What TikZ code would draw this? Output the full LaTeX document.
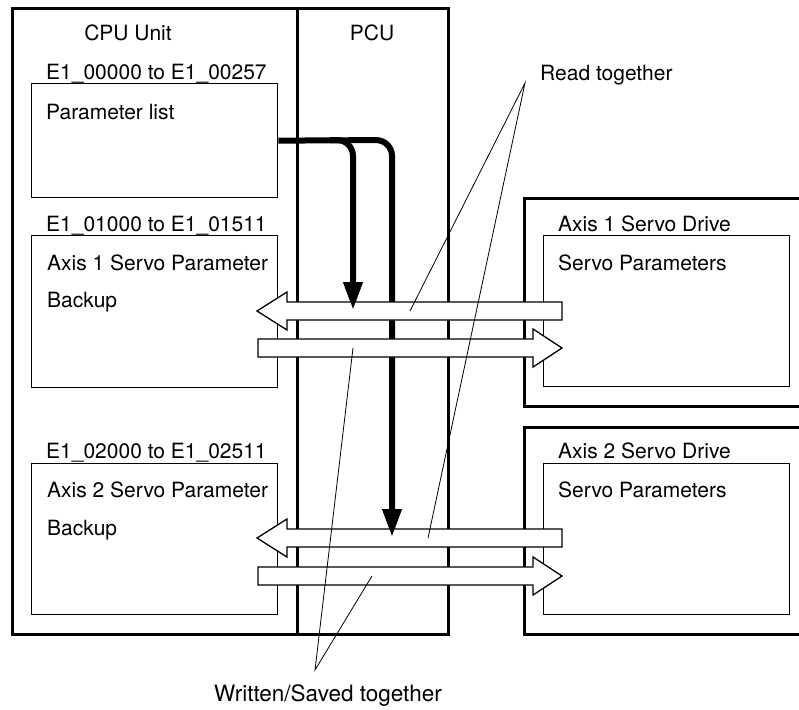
\documentclass[tikz,border=0pt]{standalone}
\usepackage{fontspec}
\setmainfont{TeX Gyre Heros}
\usetikzlibrary{arrows.meta}

\tikzset{
  unitbox/.style={draw, line width=2.6pt, inner sep=0pt, anchor=north west},
  areabox/.style={draw, line width=1.3pt, inner sep=0pt, anchor=north west},
  lbl/.style={inner sep=0pt, anchor=west, text height=15pt, text depth=0pt,
    font=\fontsize{21}{25}\selectfont},
  feed/.style={line width=6pt, rounded corners=16pt,
    -{Triangle[length=28pt,width=18pt]}},
  block/.style={draw, fill=white, line width=1.3pt, line join=miter},
  callout/.style={line width=0.8pt}
}

\begin{document}
\begin{tikzpicture}[x=1pt,y=-1pt]
    \clip (0,0) rectangle (799,709);

    % units
    \node[unitbox, minimum width=285pt, minimum height=626pt] (cpu) at (11,7) {};
    \node[unitbox, minimum width=151pt, minimum height=626pt] (pcu) at (296,7) {};
    \node[unitbox, minimum width=300pt, minimum height=208pt] (drv1) at (523,197) {};
    \node[unitbox, minimum width=300pt, minimum height=207pt] (drv2) at (523,426) {};

    % memory areas
    \node[areabox, minimum width=246pt, minimum height=114pt] (plist) at (31,83) {};
    \node[areabox, minimum width=246pt, minimum height=152pt] (bk1) at (31,235) {};
    \node[areabox, minimum width=246pt, minimum height=151pt] (bk2) at (31,463) {};
    \node[areabox, minimum width=246pt, minimum height=151pt] (sp1) at (543,235) {};
    \node[areabox, minimum width=246pt, minimum height=151pt] (sp2) at (543,463) {};

    \node[lbl, anchor=center] (cpulbl) at (128,33) {CPU Unit};
    \node[lbl, anchor=center] (pculbl) at (372,33) {PCU};
    \node[lbl] (plistadr) at (46,72) {E1\_00000 to E1\_00257};
    \node[lbl] (plistlbl) at (46,112) {Parameter list};
    \node[lbl] (bk1adr) at (46,224) {E1\_01000 to E1\_01511};
    \node[lbl] (bk1lbl) at (47,263) {Axis 1 Servo Parameter};
    \node[lbl] (bk1lblb) at (47,300) {Backup};
    \node[lbl] (bk2adr) at (46,451) {E1\_02000 to E1\_02511};
    \node[lbl] (bk2lbl) at (47,490) {Axis 2 Servo Parameter};
    \node[lbl] (bk2lblb) at (47,528) {Backup};
    \node[lbl] (drv1lbl) at (558,224) {Axis 1 Servo Drive};
    \node[lbl] (sp1lbl) at (558,263) {Servo Parameters};
    \node[lbl] (drv2lbl) at (558,451) {Axis 2 Servo Drive};
    \node[lbl] (sp2lbl) at (558,490) {Servo Parameters};
    \node[lbl] (readlbl) at (540,73) {Read together};
    \node[lbl, anchor=center, font=\fontsize{22.5}{26}\selectfont]
      (writelbl) at (328,694) {Written/Saved together};

    % transfer of the parameter list
    \draw[feed] (plist.east) -- (392,140) -- (392,537);
    \draw[feed] (330,140) -- (353,140) -- (353,310);

    % read / write arrows
    \foreach \c in {311,538}
      \draw[block] (562,\c-9) -- (287,\c-9) -- (287,\c-19) -- (257,\c)
        -- (287,\c+19) -- (287,\c+9) -- (562,\c+9) -- cycle;
    \foreach \c in {348,576}
      \draw[block] (258,\c-9) -- (533,\c-9) -- (533,\c-19) -- (562,\c)
        -- (533,\c+19) -- (533,\c+9) -- (258,\c+9) -- cycle;

    \draw[feed] (353,282) -- (353,310);
    \draw[feed] (392,509) -- (392,537);

    % callouts
    \coordinate (readpt) at (525,83);
    \coordinate (writept) at (315,670);
    \draw[callout] (410,311) -- (readpt) -- (428,538);
    \draw[callout] (353,348) -- (writept) -- (372,576);
\end{tikzpicture}
\end{document}
